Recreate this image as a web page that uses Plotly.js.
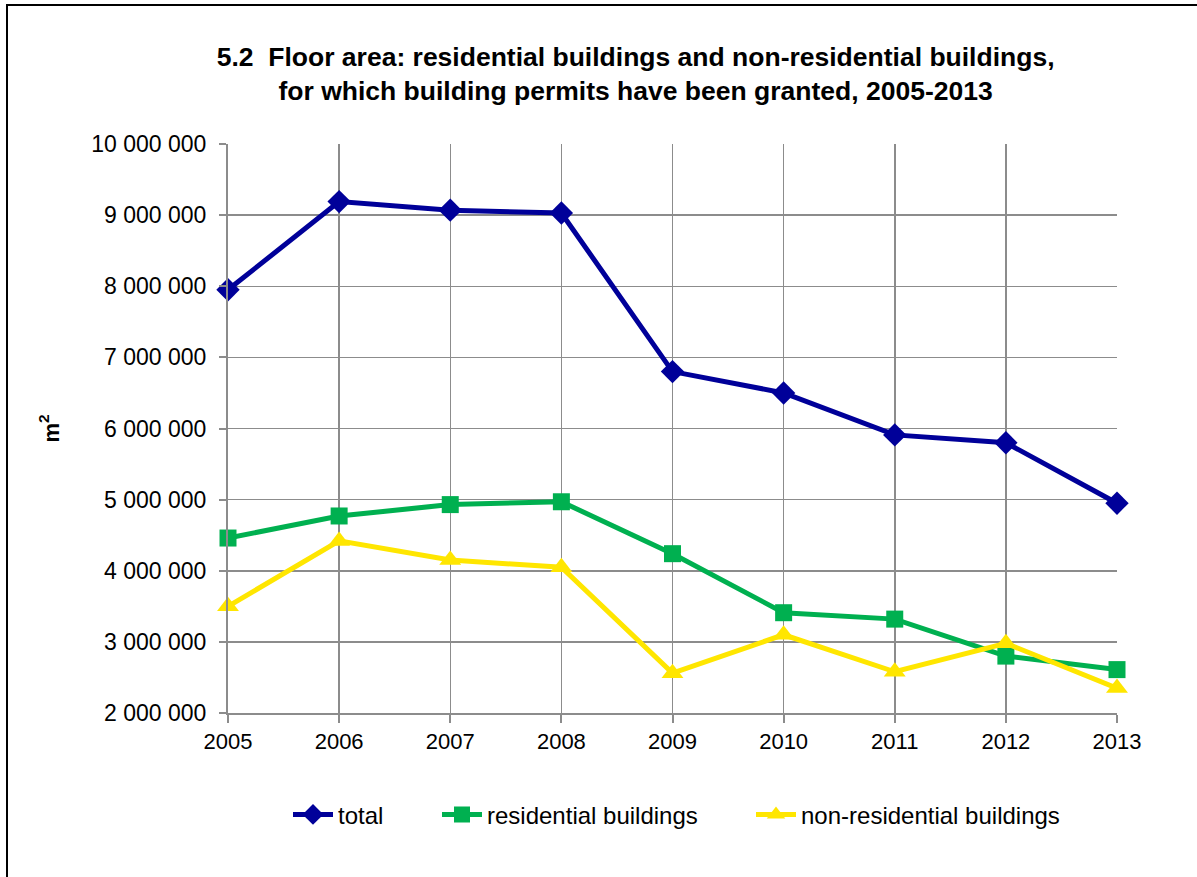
<!DOCTYPE html>
<html>
<head>
<meta charset="utf-8">
<script src="https://cdn.plot.ly/plotly-3.0.1.min.js"></script>
<style>
  html, body { margin: 0; padding: 0; background: #fff; overflow: hidden; }
  #frame { position: absolute; left: 6px; top: 4px; width: 1300px; height: 1000px;
           border-left: 2px solid #000; border-top: 2px solid #000; pointer-events: none; z-index: 10; }
  #chart { position: absolute; left: 0; top: 0; width: 1197px; height: 877px; }
</style>
</head>
<body>
<div id="chart"></div>
<div id="frame"></div>
<script>
const years = [2005, 2006, 2007, 2008, 2009, 2010, 2011, 2012, 2013];
const total = [7950000, 9190000, 9070000, 9030000, 6800000, 6500000, 5910000, 5800000, 4950000];
const residential = [4460000, 4770000, 4930000, 4970000, 4240000, 3410000, 3320000, 2800000, 2610000];
const nonResidential = [3500000, 4420000, 4150000, 4050000, 2560000, 3100000, 2580000, 2980000, 2350000];
const yTicks = [2000000, 3000000, 4000000, 5000000, 6000000, 7000000, 8000000, 9000000, 10000000];

const font = "Arial, 'Liberation Sans', sans-serif";

const traces = [
  {x: years, y: total, name: 'total', type: 'scatter', mode: 'lines+markers', legend: 'legend',
   line: {color: '#000099', width: 5}, marker: {symbol: 'diamond', size: 18, color: '#000099'}, cliponaxis: false},
  {x: years, y: residential, name: 'residential buildings', type: 'scatter', mode: 'lines+markers', legend: 'legend2',
   line: {color: '#00B050', width: 5}, marker: {symbol: 'square', size: 17, color: '#00B050'}, cliponaxis: false},
  {x: years, y: nonResidential, name: 'non-residential buildings', type: 'scatter', mode: 'lines+markers', legend: 'legend3',
   line: {color: '#FFE600', width: 5}, marker: {symbol: 'triangle-up', size: 19, color: '#FFE600'}, cliponaxis: false}
];

function leg(xpx) {
  return {
    orientation: 'h', x: (xpx - 228) / 889, xanchor: 'left', y: -0.179, yanchor: 'middle',
    font: {family: font, size: 24, color: '#000'}, itemwidth: 40,
    bgcolor: 'rgba(0,0,0,0)', borderwidth: 0
  };
}

const layout = {
  width: 1197, height: 877,
  margin: {l: 228, r: 80, t: 144, b: 164},
  paper_bgcolor: '#fff', plot_bgcolor: '#fff',
  separators: '. ',
  font: {family: font, color: '#000', size: 22},
  showlegend: true,
  title: {
    text: '<b>5.2  Floor area: residential buildings and non-residential buildings,<br>for which building permits have been granted, 2005-2013</b>',
    font: {family: font, size: 26.5, color: '#000'},
    x: 0.531, xanchor: 'center', y: 0.925, yanchor: 'middle'
  },
  xaxis: {
    range: [2005, 2013], tickvals: years, ticktext: years.map(String),
    showgrid: true, gridcolor: '#8c8c8c', gridwidth: 1.5,
    showline: true, linecolor: '#8c8c8c', linewidth: 2,
    ticks: 'outside', ticklen: 8, tickcolor: '#8c8c8c', tickwidth: 2,
    tickfont: {family: font, size: 22, color: '#000'}, zeroline: false, fixedrange: true
  },
  yaxis: {
    range: [2000000, 10000000], tickvals: yTicks, tickformat: ',.0f',
    showgrid: true, gridcolor: '#8c8c8c', gridwidth: 1.5,
    showline: true, linecolor: '#8c8c8c', linewidth: 2,
    ticks: 'outside', ticklen: 7, tickcolor: '#8c8c8c', tickwidth: 2, ticklabelstandoff: 8,
    tickfont: {family: font, size: 23, color: '#000'}, zeroline: false, fixedrange: true,
    title: {text: '<b>m<sup>2</sup></b>', font: {family: font, size: 22, color: '#000'}, standoff: 26}
  },
  legend: leg(288),
  legend2: leg(437),
  legend3: leg(751)
};

Plotly.newPlot('chart', traces, layout, {displayModeBar: false, staticPlot: true});
</script>
</body>
</html>
